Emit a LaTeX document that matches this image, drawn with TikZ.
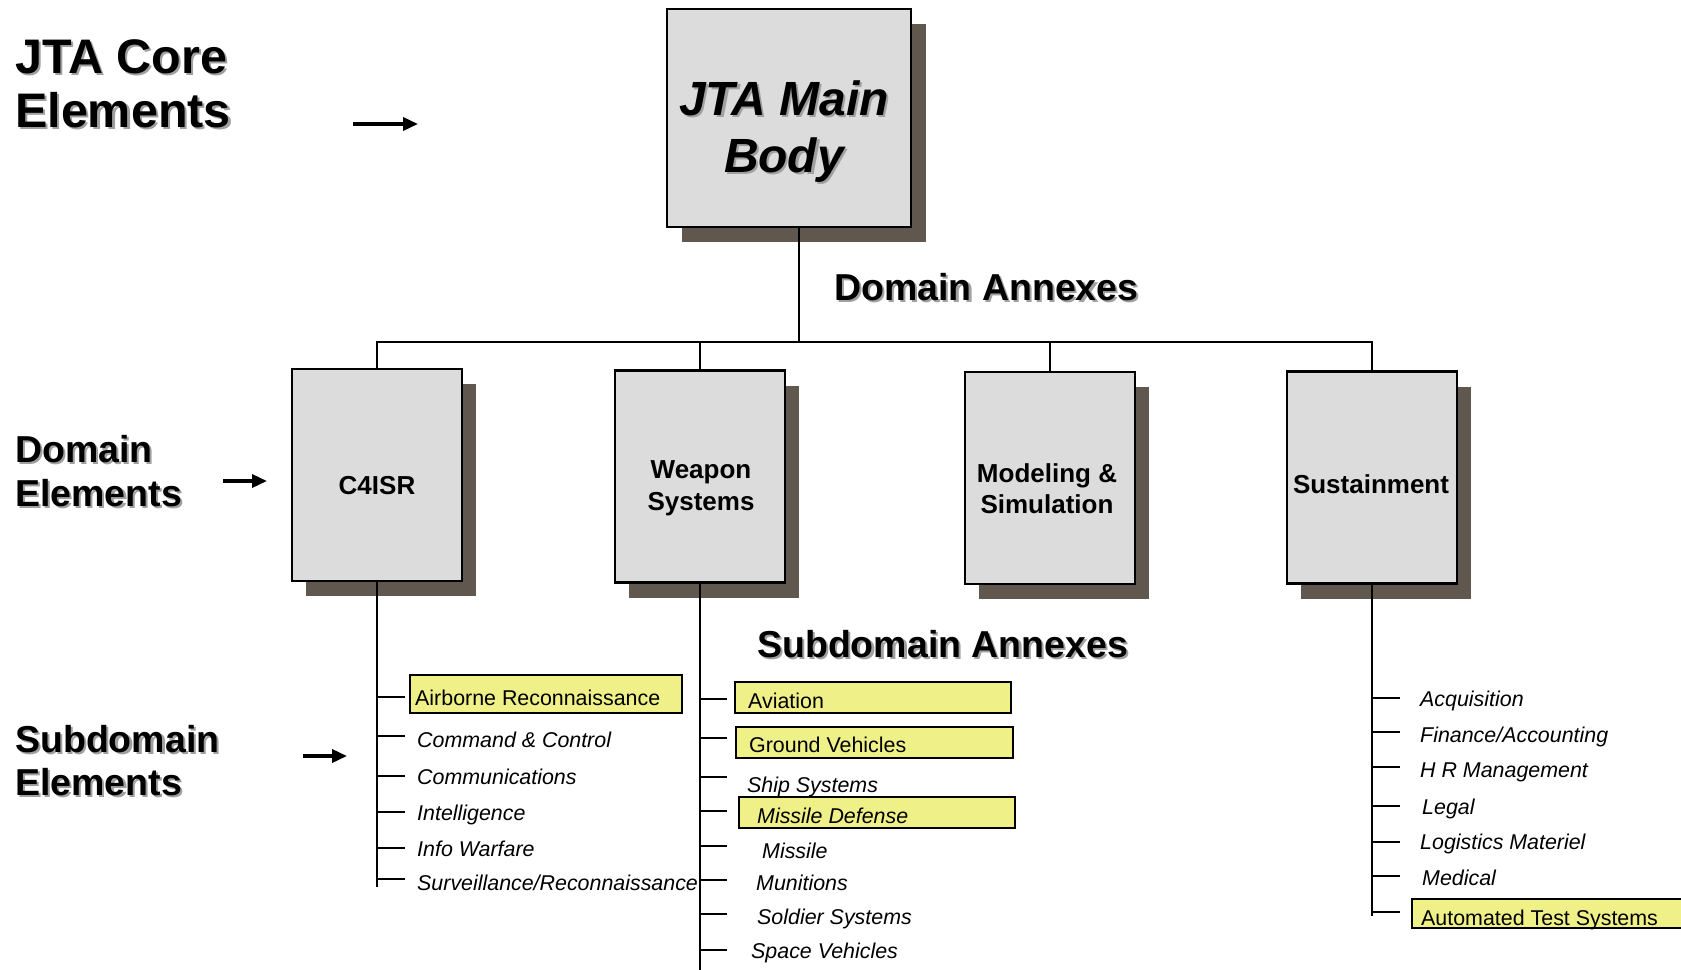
\documentclass[tikz,border=0pt]{standalone}
\usepackage{fontspec}
\setmainfont{Liberation Sans}
\usetikzlibrary{arrows.meta,shadows,calc}
\definecolor{boxfill}{RGB}{220,220,220}
\definecolor{shadowc}{RGB}{96,88,78}
\definecolor{hl}{RGB}{240,240,136}
\definecolor{tshadow}{RGB}{160,160,160}
\newcommand\shtxt[5]{%
  \node[#2,text=tshadow] (#1s) at (#3+2.2,#4+2.2) {#5};
  \node[#2] (#1) at (#3,#4) {#5};}
\begin{document}
\begin{tikzpicture}[x=1pt,y=-1pt,
  conn/.style={line width=2.2pt},
  arr/.style={line width=3.5pt,-{Triangle[length=15pt,width=13pt]}},
  dbox/.style={draw=black,line width=2.5pt,fill=boxfill,inner sep=0pt,
    minimum width=170pt,minimum height=212pt,
    drop shadow={shadow xshift=14pt,shadow yshift=-15pt,fill=shadowc,opacity=1}},
  mbox/.style={draw=black,line width=2.5pt,fill=boxfill,inner sep=0pt,
    minimum width=244pt,minimum height=218pt,
    drop shadow={shadow xshift=15pt,shadow yshift=-15pt,fill=shadowc,opacity=1}},
  dtext/.style={font=\bfseries\fontsize{26}{32}\selectfont,anchor=base,inner sep=0pt},
  mtext/.style={font=\bfseries\itshape\fontsize{48}{56}\selectfont,anchor=base,inner sep=0pt},
  item/.style={font=\itshape\fontsize{21.4}{25}\selectfont,anchor=base west,inner sep=0pt},
  itemup/.style={font=\fontsize{21.4}{25}\selectfont,anchor=base west,inner sep=0pt},
  hlbox/.style={draw=black,line width=2.2pt,fill=hl,inner sep=0pt,anchor=north west},
  big/.style={font=\bfseries\fontsize{37.5}{44}\selectfont,anchor=base west,inner sep=0pt},
  huge/.style={font=\bfseries\fontsize{48.5}{56}\selectfont,anchor=base west,inner sep=0pt}
]
\useasboundingbox (0,0) rectangle (1681,969);
\clip (0,0) rectangle (1681,969);
\fill[white] (0,0) rectangle (1681,969);

% left labels
\shtxt{jc1}{huge}{15}{73}{JTA Core}
\shtxt{jc2}{huge}{15}{127}{Elements}
\shtxt{de1}{big}{15}{462}{Domain}
\shtxt{de2}{big}{15}{506}{Elements}
\shtxt{se1}{big}{15}{752}{Subdomain}
\shtxt{se2}{big}{15}{795}{Elements}
\coordinate (a1s) at (353,124); \coordinate (a1e) at (418,124);
\coordinate (a2s) at (223,481); \coordinate (a2e) at (267,481);
\coordinate (a3s) at (303,756); \coordinate (a3e) at (347,756);
\draw[arr] (a1s) -- (a1e);
\draw[arr] (a2s) -- (a2e);
\draw[arr] (a3s) -- (a3e);

% main body
\node[mbox] (main) at (789,118) {};
\shtxt{mt1}{mtext}{784}{115}{JTA Main}
\shtxt{mt2}{mtext}{784}{172}{Body}

% headings
\shtxt{dah}{big}{834}{300}{Domain Annexes}
\shtxt{sah}{big}{757}{657}{Subdomain Annexes}

% domain boxes
\node[dbox] (c4) at (377,475) {};
\node[dbox] (ws) at (700,476.5) {};
\node[dbox] (ms) at (1050,478) {};
\node[dbox] (su) at (1372,477.5) {};
\node[dtext] (c4t) at (377,494) {C4ISR};
\node[dtext] (wst1) at (701,478) {Weapon};
\node[dtext] (wst2) at (701,510) {Systems};
\node[dtext] (mst1) at (1047,482) {Modeling \&};
\node[dtext] (mst2) at (1047,513) {Simulation};
\node[dtext] (sut) at (1371,493) {Sustainment};

% tree connectors
\coordinate (bus0) at (799,342);
\draw[conn] (main.south -| bus0) -- (bus0);
\draw[conn] (c4.north) -- (c4.north |- bus0) -- (su.north |- bus0) -- (su.north);
\draw[conn] (ws.north) -- (ws.north |- bus0);
\draw[conn] (ms.north) -- (ms.north |- bus0);

% spines
\coordinate (c4end) at (377,887);
\coordinate (wsend) at (700,975);
\coordinate (suend) at (1372,916);
\draw[conn] (c4.south) -- (c4end);
\draw[conn] (ws.south) -- (wsend);
\draw[conn] (su.south) -- (suend);
\foreach \y in {697,736,776,812,848,879} \draw[conn] (377,\y) -- ++(28,0);
\foreach \y in {699,738,777,811,846,880,914,950} \draw[conn] (700,\y) -- ++(27,0);
\foreach \y in {698,732,767,806,842,876,912} \draw[conn] (1372,\y) -- ++(28,0);

% highlight boxes
\node[hlbox,minimum width=272pt,minimum height=38pt] (hb1) at (409,674) {};
\node[hlbox,minimum width=276pt,minimum height=31pt] (hb2) at (734,681) {};
\node[hlbox,minimum width=277pt,minimum height=31pt] (hb3) at (735,726) {};
\node[hlbox,minimum width=276pt,minimum height=31pt] (hb4) at (738,796) {};
\node[hlbox,minimum width=300pt,minimum height=29pt] (hb5) at (1411,898) {};

% C4ISR items
\node[itemup] (i1) at (415,705) {Airborne Reconnaissance};
\node[item] (i2) at (417,747) {Command \& Control};
\node[item] (i3) at (417,784) {Communications};
\node[item] (i4) at (417,820) {Intelligence};
\node[item] (i5) at (417,856) {Info Warfare};
\node[item] (i6) at (417,890) {Surveillance/Reconnaissance};

% Weapon items
\node[itemup] (w1) at (748,708) {Aviation};
\node[itemup] (w2) at (749,752) {Ground Vehicles};
\node[item] (w3) at (747,792) {Ship Systems};
\node[item] (w4) at (757,823) {Missile Defense};
\node[item] (w5) at (762,858) {Missile};
\node[item] (w6) at (756,890) {Munitions};
\node[item] (w7) at (757,924) {Soldier Systems};
\node[item] (w8) at (751,958) {Space Vehicles};

% Sustainment items
\node[item] (s1) at (1420,706) {Acquisition};
\node[item] (s2) at (1420,742) {Finance/Accounting};
\node[item] (s3) at (1420,777) {H R Management};
\node[item] (s4) at (1422,814) {Legal};
\node[item] (s5) at (1420,849) {Logistics Materiel};
\node[item] (s6) at (1422,885) {Medical};
\node[itemup] (s7) at (1421,925) {Automated Test Systems};
\end{tikzpicture}
\end{document}
